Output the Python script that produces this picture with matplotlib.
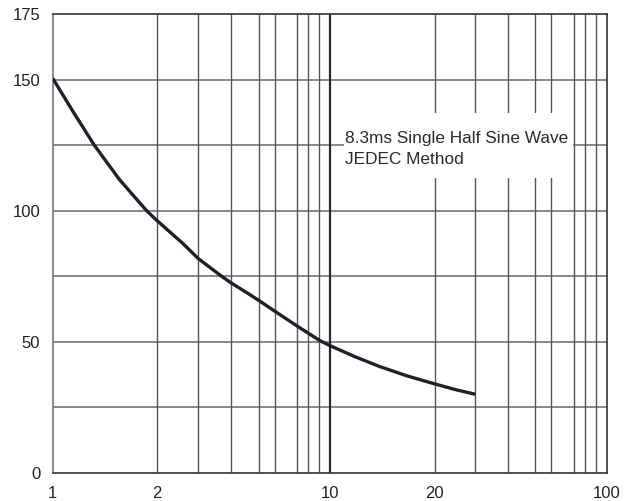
import matplotlib
matplotlib.use("Agg")
import matplotlib.pyplot as plt
from matplotlib.patches import Rectangle

# Curve data (x on log axis, y value)
curve_x = [1.0, 1.189, 1.413, 1.738, 2.183, 2.382, 2.951, 3.350, 4.072, 4.416, 5.012,
           5.546, 6.310, 7.586, 9.204, 10.0, 12.30, 15.14, 19.05, 23.88, 28.18, 33.57]
curve_y = [150.5, 137.5, 125, 112, 100, 96.2, 87.5, 81.8, 75, 72.4, 68.8,
           65.8, 61.8, 56.2, 50.5, 48.6, 44.4, 40.6, 37, 34, 31.9, 30]

# Vertical grid line values (as drawn in the original chart)
vgrid_values = [2.38, 3.35, 4.42, 5.55, 6.33, 7.62, 8.32, 9.12,
                10.0, 23.9, 33.6, 44.1, 55.3, 63.2, 76.2, 83.6, 91.4]
hgrid_values = [25, 50, 75, 100, 125, 150]

xtick_values = [1, 2.38, 10, 23.9, 100]
xtick_labels = ["1", "2", "10", "20", "100"]
ytick_values = [0, 50, 100, 150, 175]
ytick_labels = ["0", "50", "100", "150", "175"]

note_lines = ["8.3ms Single Half Sine Wave", "JEDEC Method"]

plt.rcParams['font.family'] = ['Liberation Sans', 'DejaVu Sans']

fig = plt.figure(figsize=(6.35, 5.01), dpi=100)
ax = fig.add_axes([52.7 / 635, 1 - 473 / 501, (606.7 - 52.7) / 635, (473 - 14) / 501])
ax.set_xscale('log')
ax.set_xlim(1, 100)
ax.set_ylim(0, 175)

for v in hgrid_values:
    ax.axhline(v, color='#7f7f7f', lw=1.3, zorder=1)
for v in vgrid_values:
    if v == 10.0:
        ax.axvline(v, color='#2a2a2a', lw=1.6, zorder=1)
    else:
        ax.axvline(v, color='#555555', lw=1.0, zorder=1)

ax.plot(curve_x, curve_y, color='#1c212b', lw=2.4, solid_capstyle='butt',
        solid_joinstyle='round', zorder=3)

# white label box
ax.add_patch(Rectangle((11.3, 112.5), 75.3 - 11.3, 137.2 - 112.5,
                       facecolor='white', edgecolor='none', zorder=2))
ax.text(11.4, 125.7, note_lines[0], fontsize=12.4, color='#2a2a2a',
        va='baseline', ha='left', zorder=4)
ax.text(11.4, 117.8, note_lines[1], fontsize=12.4, color='#2a2a2a',
        va='baseline', ha='left', zorder=4)

ax.set_xticks(xtick_values)
ax.set_xticklabels(xtick_labels)
ax.xaxis.set_minor_locator(matplotlib.ticker.NullLocator())
ax.set_yticks(ytick_values)
ax.set_yticklabels(ytick_labels)
ax.tick_params(axis='both', length=0, labelsize=12, colors='#222222')
ax.tick_params(axis='x', pad=9)
ax.tick_params(axis='y', pad=9)

for side in ['top', 'right', 'bottom']:
    ax.spines[side].set_color('#333333')
    ax.spines[side].set_linewidth(1.2)
ax.spines['left'].set_color('#777777')
ax.spines['left'].set_linewidth(1.2)

fig.savefig('out.png', dpi=100)
